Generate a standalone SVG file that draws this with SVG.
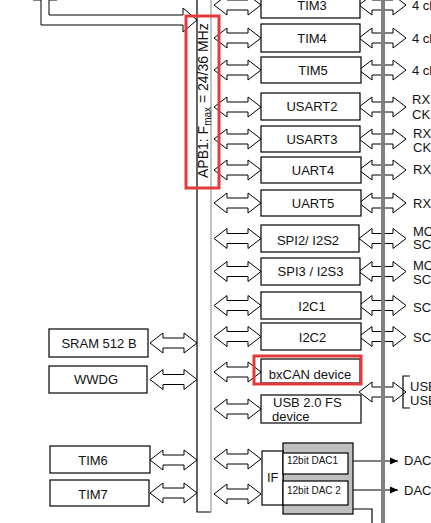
<svg xmlns="http://www.w3.org/2000/svg" width="431" height="523" viewBox="0 0 431 523">
<style>
.box{fill:#fff;stroke:#000;stroke-width:1.2}
.t{font-family:"Liberation Sans",Arial,sans-serif;font-size:13px;fill:#111}
.tc{text-anchor:middle}
.s{font-size:10px}
.da{fill:#fff;stroke:#000;stroke-width:1}
.red{fill:none;stroke:#e53a3d;stroke-width:3}
.ln{fill:none;stroke:#000;stroke-width:1.2}
</style>
<defs>
<path id="da" class="da" d="M0,0 L13,-10 L13,-5 L34,-5 L34,-10 L47,0 L34,10 L34,5 L13,5 L13,10 Z"/>
<marker id="ah" viewBox="0 0 8 8" refX="8" refY="4" markerWidth="8" markerHeight="8" markerUnits="userSpaceOnUse" orient="auto"><path d="M0,0.5 L8,4 L0,7.5 Z" fill="#000"/></marker>
</defs>
<rect width="431" height="523" fill="#fff"/>

<g id="apb1-bus">
<rect x="197" y="-5" width="14" height="517" fill="#fff" stroke="none"/>
<path d="M197,-5 V512 H211" class="ln"/>
<path d="M211,-5 V512" fill="none" stroke="#999" stroke-width="1.2"/>
<text class="t" transform="translate(208,178) rotate(-90)" style="font-size:14px">APB1: F<tspan dy="3" style="font-size:10px">max</tspan><tspan dy="-3"> = 24/36 MHz</tspan></text>
</g>

<g id="connectors">
<path class="da" d="M33,0 H41 V25 H183 V32 L197,20 L183,8 V15 H49 V0 H57"/>
<use href="#da" x="150" y="343"/>
<use href="#da" x="150" y="379.5"/>
<use href="#da" x="150" y="460"/>
<use href="#da" x="150" y="493"/>
<use href="#da" x="214" y="5"/>
<use href="#da" x="214" y="38"/>
<use href="#da" x="214" y="70"/>
<use href="#da" x="214" y="107"/>
<use href="#da" x="214" y="139"/>
<use href="#da" x="214" y="170"/>
<use href="#da" x="214" y="203"/>
<use href="#da" x="214" y="238.5"/>
<use href="#da" x="214" y="271.5"/>
<use href="#da" x="214" y="305.5"/>
<use href="#da" x="214" y="336.5"/>
<use href="#da" x="214" y="372"/>
<use href="#da" x="214" y="409"/>
<use href="#da" x="214" y="459"/>
<use href="#da" x="214" y="494"/>
<use href="#da" x="359" y="5"/>
<use href="#da" x="359" y="38"/>
<use href="#da" x="359" y="70"/>
<use href="#da" x="359" y="107"/>
<use href="#da" x="359" y="139"/>
<use href="#da" x="359" y="170"/>
<use href="#da" x="359" y="203"/>
<use href="#da" x="359" y="238.5"/>
<use href="#da" x="359" y="271.5"/>
<use href="#da" x="359" y="305.5"/>
<use href="#da" x="359" y="336.5"/>
<use href="#da" x="359" y="392"/>
<path class="ln" d="M348,461 H398" marker-end="url(#ah)"/>
<path class="ln" d="M348,490 H398" marker-end="url(#ah)"/>
<path class="ln" d="M353,509 H372 V523"/>
<path class="ln" d="M410,376 H403 V408 H410"/>
</g>

<g id="apb-right-bus">
<rect x="381" y="0" width="4" height="523" fill="#808080"/>
</g>

<g id="tim3"><rect class="box" x="261" y="-9" width="99" height="27"/><text class="t tc" x="312" y="9.5">TIM3</text></g>
<g id="tim4"><rect class="box" x="261" y="24" width="99" height="28"/><text class="t tc" x="312" y="42.5">TIM4</text></g>
<g id="tim5"><rect class="box" x="261" y="57" width="100" height="26"/><text class="t tc" x="313" y="74.5">TIM5</text></g>
<g id="usart2"><rect class="box" x="261" y="93" width="99" height="27"/><text class="t tc" x="312" y="111">USART2</text></g>
<g id="usart3"><rect class="box" x="261" y="126" width="99" height="26"/><text class="t tc" x="312" y="143.5">USART3</text></g>
<g id="uart4"><rect class="box" x="261" y="157" width="100" height="26"/><text class="t tc" x="313" y="174.5">UART4</text></g>
<g id="uart5"><rect class="box" x="261" y="190" width="100" height="26"/><text class="t tc" x="313" y="207.5">UART5</text></g>
<g id="spi2"><rect class="box" x="261" y="225" width="98" height="27"/><text class="t tc" x="308" y="244.5">SPI2/ I2S2</text></g>
<g id="spi3"><rect class="box" x="261" y="258" width="99" height="27"/><text class="t tc" x="310.5" y="276">SPI3 / I2S3</text></g>
<g id="i2c1"><rect class="box" x="261" y="292" width="100" height="27"/><text class="t tc" x="312" y="310.5">I2C1</text></g>
<g id="i2c2"><rect class="box" x="261" y="323" width="100" height="27"/><text class="t tc" x="312.5" y="342">I2C2</text></g>
<g id="bxcan"><rect class="box" x="261" y="359" width="99" height="24"/><text class="t tc" x="310" y="378.5">bxCAN device</text><rect class="red" x="254" y="356" width="107" height="28"/></g>
<g id="usb"><rect class="box" x="261" y="395" width="100" height="28"/><text class="t" x="273" y="407">USB 2.0 FS</text><text class="t" x="272" y="420.5">device</text></g>

<g id="dac">
<rect x="283" y="443" width="70" height="71" fill="#bfbfbf" stroke="#000" stroke-width="1.2"/>
<rect class="box" x="262" y="451" width="21" height="54"/>
<text class="t" x="267" y="481.5">IF</text>
<rect class="box" x="283" y="453" width="65" height="21"/>
<text class="t s" x="287" y="463.5">12bit  DAC1</text>
<rect class="box" x="283" y="481" width="65" height="24"/>
<text class="t s" x="287" y="494">12bit DAC 2</text>
</g>

<g id="sram"><rect class="box" x="49" y="329" width="99" height="28"/><text class="t tc" x="99" y="347.5">SRAM 512 B</text></g>
<g id="wwdg"><rect class="box" x="49" y="366" width="98" height="27"/><text class="t tc" x="96" y="383.5">WWDG</text></g>
<g id="tim6"><rect class="box" x="50" y="446" width="100" height="27"/><text class="t tc" x="93" y="464.5">TIM6</text></g>
<g id="tim7"><rect class="box" x="50" y="480" width="99" height="26"/><text class="t tc" x="93" y="498.5">TIM7</text></g>

<g id="right-labels">
<text class="t" x="412" y="9.5">4 ch</text>
<text class="t" x="412" y="42.5">4 ch</text>
<text class="t" x="412" y="74.5">4 ch</text>
<text class="t" x="412" y="104">RX,</text>
<text class="t" x="412" y="118.5">CK</text>
<text class="t" x="413" y="137.5">RX,</text>
<text class="t" x="413" y="152">CK</text>
<text class="t" x="413" y="174">RX</text>
<text class="t" x="413" y="207.5">RX</text>
<text class="t" x="413" y="235.5">MO</text>
<text class="t" x="413" y="248.5">SC</text>
<text class="t" x="413" y="269.5">MO</text>
<text class="t" x="413" y="283.5">SC</text>
<text class="t" x="413" y="311.5">SC</text>
<text class="t" x="413" y="341.5">SC</text>
<text class="t" x="410" y="390.5">USB</text>
<text class="t" x="410" y="404.5">USB</text>
<text class="t" x="404" y="465">DAC</text>
<text class="t" x="404" y="494.5">DAC</text>
</g>

<g id="apb1-highlight"><rect class="red" x="186" y="16" width="33" height="172"/></g>
</svg>
